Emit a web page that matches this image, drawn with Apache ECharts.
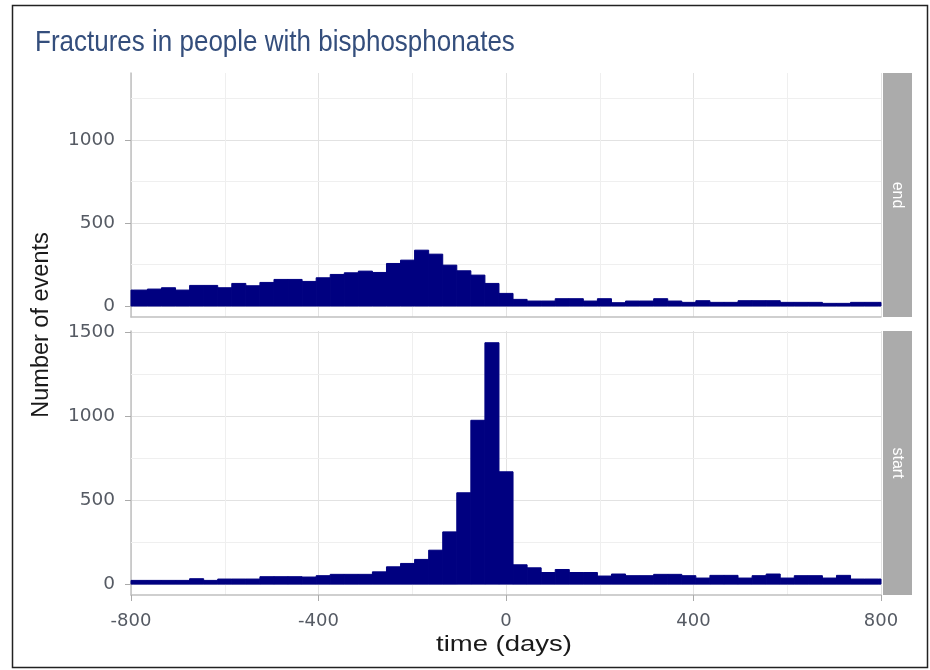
<!DOCTYPE html>
<html>
<head>
<meta charset="utf-8">
<title>Fractures in people with bisphosphonates</title>
<script src="https://cdn.jsdelivr.net/npm/echarts@6/dist/echarts.min.js"></script>
<style>
  html, body { margin: 0; padding: 0; background: #fff; }
  #chart { width: 930px; height: 670px; }
</style>
</head>
<body>
<div id="chart"></div>
<script>
// histogram bins, 30 days wide, centred on these values (days)
const BIN_WIDTH = 30;
const binCenters = [
  -810, -780, -750, -720, -690, -660, -630, -600, -570, -540, -510, -480, -450, -420,
  -390, -360, -330, -300, -270, -240, -210, -180, -150, -120, -90, -60, -30,
  0, 30, 60, 90, 120, 150, 180, 210, 240, 270, 300, 330, 360, 390, 420,
  450, 480, 510, 540, 570, 600, 630, 660, 690, 720, 750, 780, 810
];
// panel "end"
const endCounts = [
  96, 96, 102, 110, 96, 124, 124, 110, 136, 122, 142, 160, 160, 148,
  170, 190, 200, 210, 202, 256, 276, 336, 312, 246, 212, 186, 136,
  76, 40, 30, 30, 44, 44, 30, 44, 20, 30, 30, 44, 30, 22, 32,
  22, 22, 32, 32, 32, 22, 22, 22, 16, 16, 22, 22, 22
];
// panel "start"
const startCounts = [
  22, 22, 22, 22, 22, 32, 22, 30, 30, 30, 44, 44, 44, 42,
  50, 58, 58, 58, 73, 103, 123, 147, 202, 311, 544, 976, 1438,
  669, 115, 97, 69, 87, 69, 69, 48, 60, 50, 50, 58, 58, 50, 36,
  52, 52, 36, 50, 60, 36, 50, 50, 36, 52, 30, 30, 30
];
const panelNames = ['end', 'start'];
const yLabelsEnd = [0, 500, 1000];
const yLabelsStart = [0, 500, 1000, 1500];
const yMinorLines = [250, 750, 1250];

const NAVY = '#000080';
const LABEL_GREY = '#555a63';
const AXIS_GREY = '#c0c0c0';

const chart = echarts.init(document.getElementById('chart'), null, { renderer: 'canvas' });

function renderBar(params, api) {
  const x = api.value(0);
  const count = api.value(1);
  const topLeft = api.coord([x - BIN_WIDTH / 2, count]);
  const bottomRight = api.coord([x + BIN_WIDTH / 2, 0]);
  const cs = params.coordSys;
  const shape = echarts.graphic.clipRectByRect(
    { x: topLeft[0], y: topLeft[1], width: bottomRight[0] - topLeft[0], height: bottomRight[1] - topLeft[1] },
    { x: cs.x, y: cs.y, width: cs.width, height: cs.height }
  );
  if (!shape) return;
  return { type: 'rect', shape: shape, style: { fill: NAVY, stroke: NAVY, lineWidth: 1 } };
}

// minor horizontal grid lines, placed with the y scale, kept under the bars
function renderMinorLine(params, api) {
  const cs = params.coordSys;
  const y = Math.round(api.coord([0, api.value(0)])[1]) + 0.5;
  return {
    type: 'line', silent: true,
    shape: { x1: cs.x, y1: y, x2: cs.x + cs.width, y2: y },
    style: { stroke: '#efefef', lineWidth: 1 }
  };
}

function xAxisFor(gridIndex, showLabels) {
  return {
    type: 'value', gridIndex: gridIndex, min: -800, max: 800, interval: 400,
    axisLine: { onZero: false, lineStyle: { color: AXIS_GREY, width: 1.5 } },
    axisTick: { show: showLabels, length: 6, lineStyle: { color: '#aaa' } },
    axisLabel: { show: showLabels, margin: 17, color: LABEL_GREY, fontSize: 18, fontFamily: 'DejaVu Sans', formatter: v => String(v) },
    splitLine: { show: true, lineStyle: { color: '#e2e2e2', width: 1 } },
    minorTick: { show: false, splitNumber: 2 },
    minorSplitLine: { show: true, lineStyle: { color: '#efefef', width: 1 } }
  };
}

function yAxisFor(gridIndex, min, max, labels) {
  return {
    type: 'value', gridIndex: gridIndex, min: min, max: max,
    axisLine: { show: true, onZero: false, lineStyle: { color: AXIS_GREY, width: 1.5 } },
    axisTick: { show: true, length: 6, customValues: labels, lineStyle: { color: '#aaa' } },
    axisLabel: { customValues: labels, margin: 16, color: LABEL_GREY, fontSize: 18.5, fontFamily: 'DejaVu Sans', formatter: v => String(v) },
    splitLine: { show: true, lineStyle: { color: '#e2e2e2', width: 1 } }
  };
}

function minorLines(index) {
  return {
    type: 'custom', xAxisIndex: index, yAxisIndex: index, z: 1, silent: true,
    renderItem: renderMinorLine, encode: { y: 0 },
    data: yMinorLines.map(v => [v])
  };
}

function stripGraphics(top, height, name) {
  return [
    { type: 'rect', shape: { x: 883, y: top, width: 29, height: height }, style: { fill: '#ababab' } },
    {
      type: 'text', x: 897.5, y: top + height / 2, rotation: -Math.PI / 2,
      style: { text: name, fill: '#fff', fontSize: 16, fontFamily: 'Liberation Sans', align: 'center', verticalAlign: 'middle' }
    }
  ];
}

const option = {
  animation: false,
  backgroundColor: '#fff',
  grid: [
    { left: 131, top: 73, width: 750, height: 244 },
    { left: 131, top: 331, width: 750, height: 264 }
  ],
  xAxis: [xAxisFor(0, false), xAxisFor(1, true)],
  yAxis: [
    yAxisFor(0, -66, 1402, yLabelsEnd),
    yAxisFor(1, -65, 1508, yLabelsStart)
  ],
  series: [
    minorLines(0),
    minorLines(1),
    {
      name: panelNames[0], type: 'custom', xAxisIndex: 0, yAxisIndex: 0, z: 3,
      renderItem: renderBar, encode: { x: 0, y: 1 },
      data: binCenters.map((c, i) => [c, endCounts[i]])
    },
    {
      name: panelNames[1], type: 'custom', xAxisIndex: 1, yAxisIndex: 1, z: 3,
      renderItem: renderBar, encode: { x: 0, y: 1 },
      data: binCenters.map((c, i) => [c, startCounts[i]])
    }
  ],
  graphic: [
    // outer frame
    { type: 'rect', shape: { x: 12.5, y: 5.5, width: 915, height: 662 }, style: { fill: 'none', stroke: '#222', lineWidth: 1.5 } },
    {
      type: 'text', x: 35, y: 43, scaleY: 1.15,
      style: { text: 'Fractures in people with bisphosphonates', fill: '#344e7c', fontSize: 26, fontFamily: 'Liberation Sans', align: 'left', verticalAlign: 'middle' }
    },
    {
      type: 'text', x: 42, y: 325, rotation: Math.PI / 2,
      style: { text: 'Number of events', fill: '#1a1a1a', fontSize: 23.5, fontFamily: 'Liberation Sans', align: 'center', verticalAlign: 'middle' }
    },
    {
      type: 'text', x: 504, y: 645, scaleX: 1.25,
      style: { text: 'time (days)', fill: '#1a1a1a', fontSize: 22, fontFamily: 'Liberation Sans', align: 'center', verticalAlign: 'middle' }
    },
    ...stripGraphics(73, 244, panelNames[0]),
    ...stripGraphics(331, 264, panelNames[1])
  ]
};

chart.setOption(option);
</script>
</body>
</html>
